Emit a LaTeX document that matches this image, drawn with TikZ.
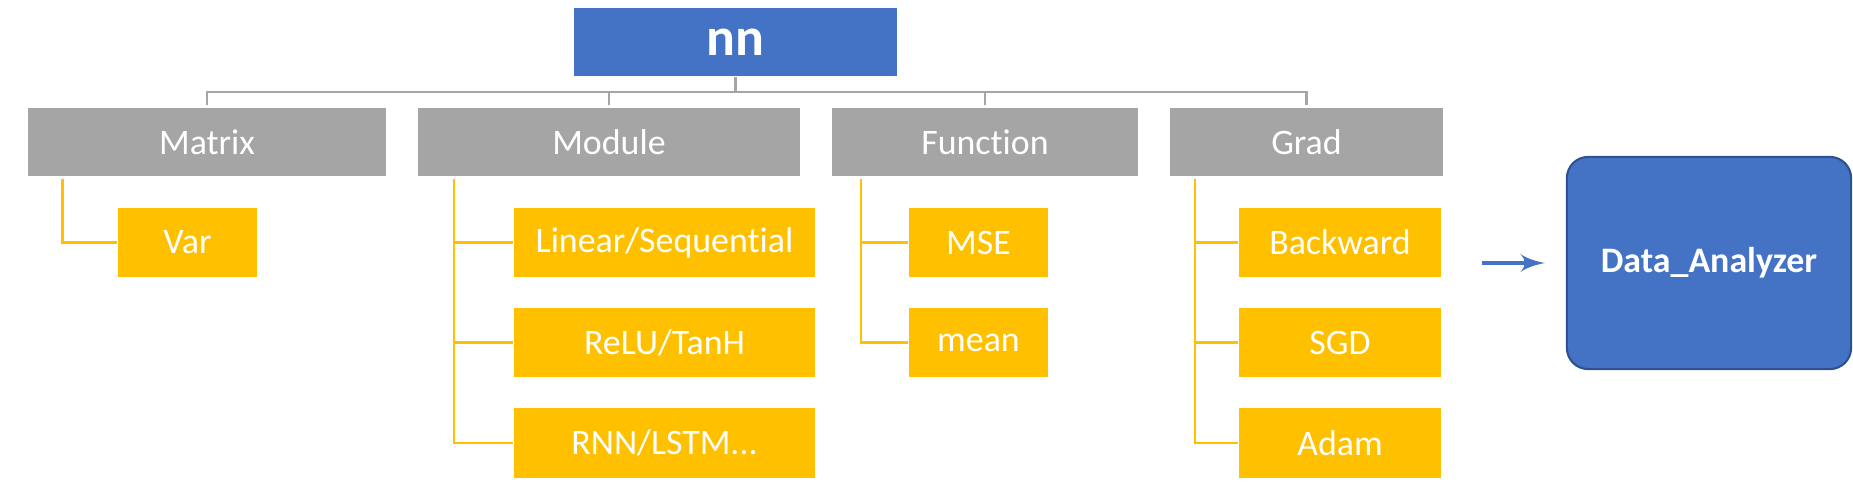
\documentclass[tikz,border=0pt]{standalone}
\usepackage{fontspec}
\setmainfont{Carlito}[Ligatures=NoCommon]
\usetikzlibrary{shapes,arrows}
\usetikzlibrary{positioning}
\definecolor{topblue}{HTML}{4472C4}
\definecolor{darkblue}{HTML}{2F528F}
\definecolor{boxgray}{HTML}{A5A5A5}
\definecolor{boxyellow}{HTML}{FFC000}
\tikzstyle{root} = [rectangle, fill=topblue, text=white, inner sep=0pt,
minimum width=3.22cm, minimum height=0.68cm, font=\fontsize{15.3}{18}\selectfont\bfseries]
\tikzstyle{group} = [rectangle, fill=boxgray, text=white, inner sep=0pt,
minimum height=0.68cm, font=\fontsize{10.2}{12}\selectfont]
\tikzstyle{leaf} = [rectangle, fill=boxyellow, text=white, inner sep=0pt,
minimum height=0.69cm, font=\fontsize{10.2}{12}\selectfont]
\tikzstyle{branch} = [draw=boxgray, line width=0.6pt]
\tikzstyle{twig} = [draw=boxyellow, line width=0.7pt]
\tikzstyle{line} = [draw=topblue, line width=1.4pt, -latex']

\begin{document}
\begin{tikzpicture}[x=0.01cm, y=-0.01cm]
    \useasboundingbox (0,0) rectangle (1853,485);
    \node[root] (nn) at (735.5,42) {nn};
    %% second level
    \node[group, minimum width=3.58cm] (Matrix) at (207,142) {Matrix};
    \node[group, minimum width=3.82cm] (Module) at (609,142) {Module};
    \node[group, minimum width=3.06cm] (Function) at (985,142) {Function};
    \node[group, minimum width=2.73cm] (Grad) at (1306.5,142) {Grad};
    %% leaves
    \node[leaf, minimum width=1.39cm] (Var) at (187.5,242.5) {Var};
    \node[leaf, minimum width=3.01cm] (Linear) at (664.5,242.5) {Linear/Sequential};
    \node[leaf, minimum width=3.01cm] (ReLU) at (664.5,342.5) {ReLU/TanH};
    \node[leaf, minimum width=3.01cm] (RNN) at (664.5,443) {RNN/LSTM...};
    \node[leaf, minimum width=1.39cm] (MSE) at (978.5,242.5) {MSE};
    \node[leaf, minimum width=1.39cm] (mean) at (978.5,342.5) {mean};
    \node[leaf, minimum width=2.02cm] (Backward) at (1340,242.5) {Backward};
    \node[leaf, minimum width=2.02cm] (SGD) at (1340,342.5) {SGD};
    \node[leaf, minimum width=2.02cm] (Adam) at (1340,443) {Adam};
    %% result
    \node[rectangle, rounded corners=6pt, fill=topblue, draw=darkblue, line width=0.6pt,
      text=white, minimum width=2.84cm, minimum height=2.12cm,
      font=\fontsize{10.2}{12}\selectfont\bfseries] (Data) at (1709,263) {Data\_Analyzer};
    %% tree lines
    \coordinate (bar) at (735.5,92);
    \path [branch] (nn.south) -- (bar);
    \foreach \g in {Matrix,Module,Function,Grad}
      \path [branch] (\g.north) ++(0,-2) |- (bar);
    \path [twig] (Matrix.south west) ++(35.5,2) |- (Var.west);
    \foreach \l in {Linear,ReLU,RNN}
      \path [twig] (Module.south west) ++(37,2) |- (\l.west);
    \foreach \l in {MSE,mean}
      \path [twig] (Function.south west) ++(30,2) |- (\l.west);
    \foreach \l in {Backward,SGD,Adam}
      \path [twig] (Grad.south west) ++(26,2) |- (\l.west);
    %%
    \coordinate (arr) at (1482,263);
    \path [line, shorten >=6pt] (arr) -- (Data.west);
\end{tikzpicture}
\end{document}
